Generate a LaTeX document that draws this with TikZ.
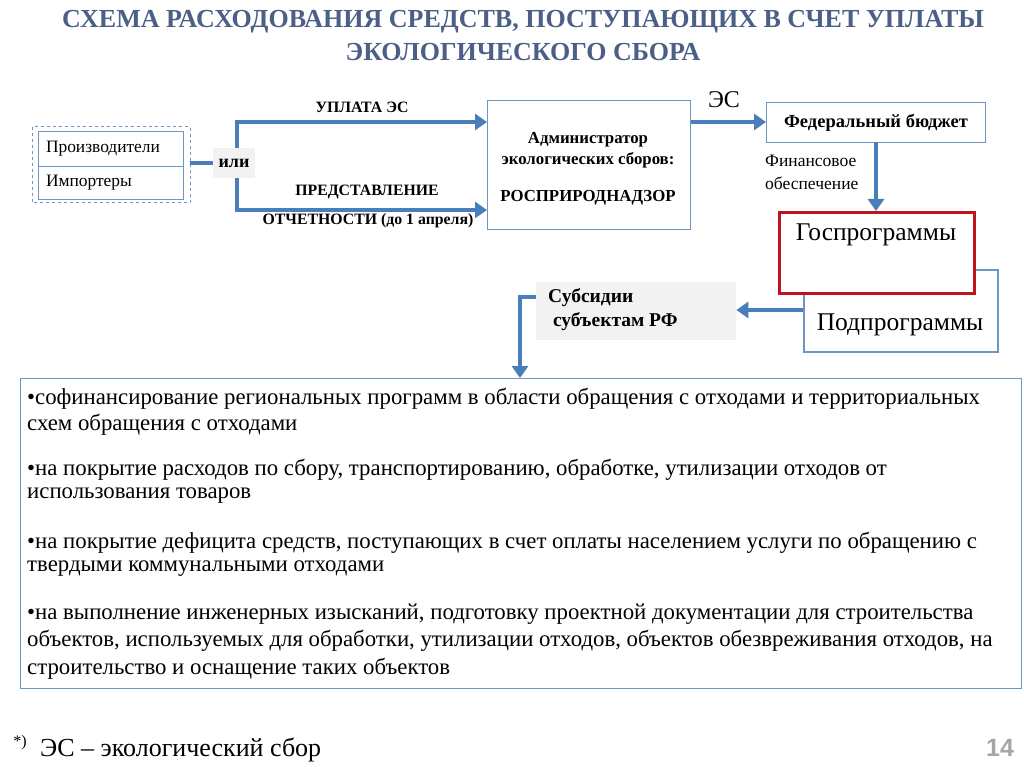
\documentclass[tikz,border=0pt]{standalone}
\usepackage{fontspec}
\setmainfont{Liberation Serif}
\newfontfamily\srf{Liberation Serif}
\newfontfamily\hsans{Liberation Sans}
\usetikzlibrary{arrows.meta}
\definecolor{ttl}{RGB}{75,95,135}
\definecolor{arr}{RGB}{74,126,187}
\definecolor{bx}{RGB}{110,150,195}
\definecolor{gbg}{RGB}{242,242,242}
\definecolor{redb}{RGB}{190,20,30}
\tikzset{
 flow/.style={draw=arr,line width=4.5pt,-{Triangle[length=12pt,width=16pt]}},
 plain/.style={draw=arr,line width=4.5pt},
 box/.style={draw=bx,line width=1pt,fill=white},
 lbl/.style={font=\srf\bfseries\fontsize{15.8}{18}\selectfont,inner sep=0pt},
 bul/.style={anchor=west,inner sep=0pt,font=\srf\fontsize{22.8}{26}\selectfont},
}
\begin{document}
\begin{tikzpicture}[x=1pt,y=-1pt]
\useasboundingbox (0,0) rectangle (1024,767);
% title
\node[font=\srf\bfseries\fontsize{26}{30}\selectfont,text=ttl] (t1) at (523,22) {СХЕМА РАСХОДОВАНИЯ СРЕДСТВ, ПОСТУПАЮЩИХ В СЧЕТ УПЛАТЫ};
\node[font=\srf\bfseries\fontsize{26}{30}\selectfont,text=ttl] (t2) at (523,52) {ЭКОЛОГИЧЕСКОГО СБОРА};
% left boxes
\draw[bx,dashed,line width=1pt] (32,127) rectangle (190,203);
\node[box,minimum width=145pt,minimum height=35pt,anchor=north west,text width=130pt,align=left,font=\srf\fontsize{17.4}{19}\selectfont] (pr) at (38,131) {Производители};
\node[box,minimum width=145pt,minimum height=33pt,anchor=north west,text width=130pt,align=left,font=\srf\fontsize{17.4}{19}\selectfont] (im) at (38,166) {Импортеры};
\node[fill=gbg,minimum width=42pt,minimum height=30pt,inner sep=1pt,font=\srf\bfseries\fontsize{18}{20}\selectfont] (ili) at (234,163) {или};
\draw[plain] (190,163) -- (ili.west);
\coordinate (v1) at (237,122);
\coordinate (v2) at (237,210);
% admin
\node[box,minimum width=203pt,minimum height=129pt,anchor=north west] (adm) at (487,100) {};
\node[font=\srf\bfseries\fontsize{16.8}{21}\selectfont,align=center] (admt) at (588,150) {Администратор\\экологических сборов:};
\node[font=\srf\bfseries\fontsize{16.8}{19}\selectfont] (ros) at (588,198) {РОСПРИРОДНАДЗОР};
\draw[flow] (237,148) -- (v1) -- (adm.west |- v1);
\draw[flow] (237,178) -- (v2) -- (adm.west |- v2);
\node[lbl] (l1) at (362,107) {УПЛАТА ЭС};
\node[lbl] (l2) at (367,192) {ПРЕДСТАВЛЕНИЕ};
\node[lbl] (l3) at (368,221) {ОТЧЕТНОСТИ (до 1 апреля)};
% federal
\node[box,minimum width=219pt,minimum height=40pt,anchor=north west,font=\srf\bfseries\fontsize{18.5}{20}\selectfont] (fed) at (766,102) {Федеральный бюджет};
\draw[flow] (adm.east |- 0,122) -- (fed.west |- 0,122);
\node[font=\srf\fontsize{24}{26}\selectfont] (es) at (724,100) {ЭС};
\node[font=\srf\fontsize{17.5}{23}\selectfont,align=left,anchor=north west,inner sep=0pt] (fin) at (765,155) {Финансовое\\обеспечение};
% programs
\node[box,line width=1.5pt,minimum width=194pt,minimum height=82pt,anchor=north west] (pod) at (803,269) {};
\node[font=\srf\fontsize{25.5}{28}\selectfont] (podt) at (900,325) {Подпрограммы};
\node[draw=redb,line width=3pt,fill=white,minimum width=195pt,minimum height=81pt,anchor=north west] (gos) at (778,211) {};
\node[font=\srf\fontsize{25.5}{28}\selectfont] (gost) at (876,235) {Госпрограммы};
\draw[flow] (876,142) -- (gos.north -| 876,0);
% subsidies
\node[fill=gbg,minimum width=200pt,minimum height=58pt,anchor=north west] (sub) at (536,282) {};
\node[font=\srf\bfseries\fontsize{19.5}{24}\selectfont,align=left,anchor=north west,inner sep=0pt] (subt) at (548,288) {Субсидии\\\ субъектам РФ};
\draw[flow] (pod.west |- 0,310) -- (sub.east |- 0,310);
% big box
\node[box,minimum width=1001pt,minimum height=310pt,anchor=north west] (big) at (20,378) {};
\draw[plain,-{Triangle[length=12pt,width=16pt]}] (sub.west |- 0,297) -- (520,297) -- (big.north -| 520,0);
\node[bul] (b1) at (27,399) {•софинансирование региональных программ в области обращения с отходами и территориальных};
\node[bul] (b1b) at (27,425) {схем обращения с отходами};
\node[bul] (b2) at (27,470) {•на покрытие расходов по сбору, транспортированию, обработке, утилизации отходов от};
\node[bul] (b2b) at (27,496) {использования товаров};
\node[bul] (b3) at (27,543) {•на покрытие дефицита средств, поступающих в счет оплаты населением услуги по обращению с};
\node[bul] (b3b) at (27,569) {твердыми коммунальными отходами};
\node[bul] (b4) at (27,614) {•на выполнение инженерных изысканий, подготовку проектной документации для строительства};
\node[bul] (b4b) at (27,641) {объектов, используемых для обработки, утилизации отходов, объектов обезвреживания отходов, на};
\node[bul] (b4c) at (27,669) {строительство и оснащение таких объектов};
% footnote
\node[font=\srf\fontsize{16}{18}\selectfont,inner sep=0pt] (st) at (20,743) {*)};
\node[font=\srf\fontsize{26}{28}\selectfont,anchor=west,inner sep=0pt] (fn) at (40,750) {ЭС – экологический сбор};
\node[font=\hsans\bfseries\fontsize{25}{28}\selectfont,text=gray!70] (pg) at (1000,748) {14};
\end{tikzpicture}
\end{document}
